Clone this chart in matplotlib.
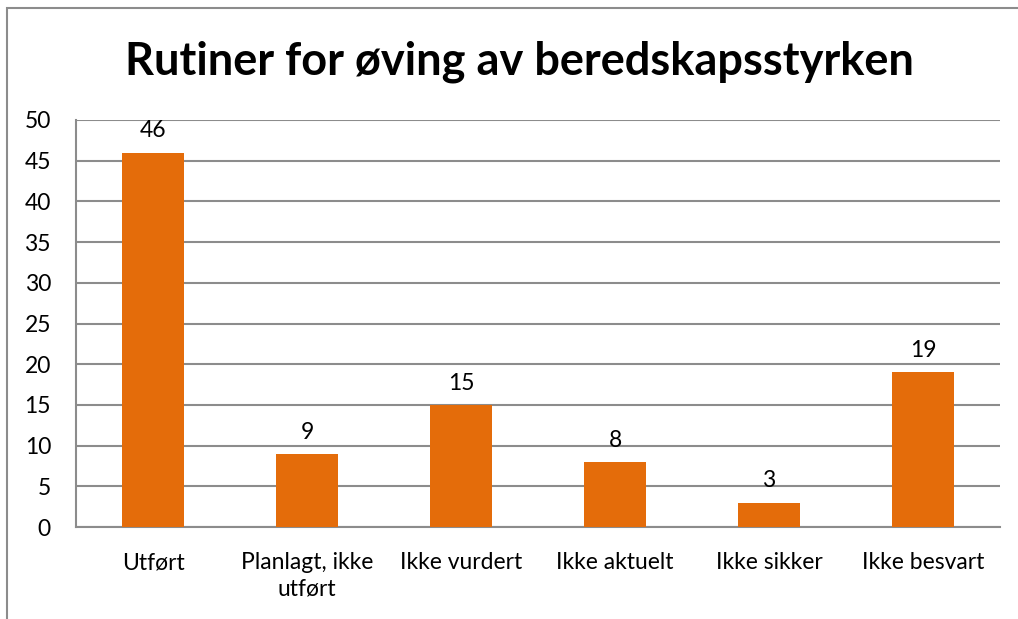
import matplotlib.pyplot as plt
from matplotlib.patches import Rectangle

categories = ['Utført', 'Planlagt, ikke\nutført', 'Ikke vurdert', 'Ikke aktuelt', 'Ikke sikker', 'Ikke besvart']
values = [46, 9, 15, 8, 3, 19]
yticks = [0, 5, 10, 15, 20, 25, 30, 35, 40, 45, 50]

plt.rcParams['font.family'] = ['Lato', 'DejaVu Sans']

fig = plt.figure(figsize=(10.18, 6.19), dpi=100)
ax = fig.add_axes([76/1018, 1 - 527/619, 924/1018, 407/619])

# outer chart border (cut at right and bottom as in the original)
fig.patches.append(Rectangle((7/1018, -0.1), 1.2, 1 - 8/619 + 0.1, transform=fig.transFigure,
                             fill=False, edgecolor='#8c8c8c', linewidth=1.5, clip_on=False))

x = range(len(categories))
bars = ax.bar(x, values, width=0.4, color='#E46C0A', zorder=3)
for b, v in zip(bars, values):
    ax.annotate(str(v), (b.get_x() + b.get_width() / 2, v), xytext=(0, 8),
                textcoords='offset points', ha='center', va='bottom', fontsize=16.5)

ax.set_xlim(-0.5, len(categories) - 0.5)
ax.set_ylim(0, 50)
ax.set_yticks(yticks)
ax.set_xticks(list(x))
ax.set_xticklabels(categories, fontsize=16.5, linespacing=1.3)
ax.tick_params(axis='y', length=0, pad=18, labelsize=16.5)
ax.tick_params(axis='x', length=0, pad=18)
ax.yaxis.grid(True, color='#8c8c8c', linewidth=1.5, zorder=0)

for s in ['top', 'right']:
    ax.spines[s].set_visible(False)
for s in ['left', 'bottom']:
    ax.spines[s].set_color('#8c8c8c')
    ax.spines[s].set_linewidth(1.5)

fig.text(519/1018, 1 - 62/619, 'Rutiner for øving av beredskapsstyrken',
         ha='center', va='center', fontsize=32.5, fontweight='bold')

fig.savefig('out.png', dpi=100)
